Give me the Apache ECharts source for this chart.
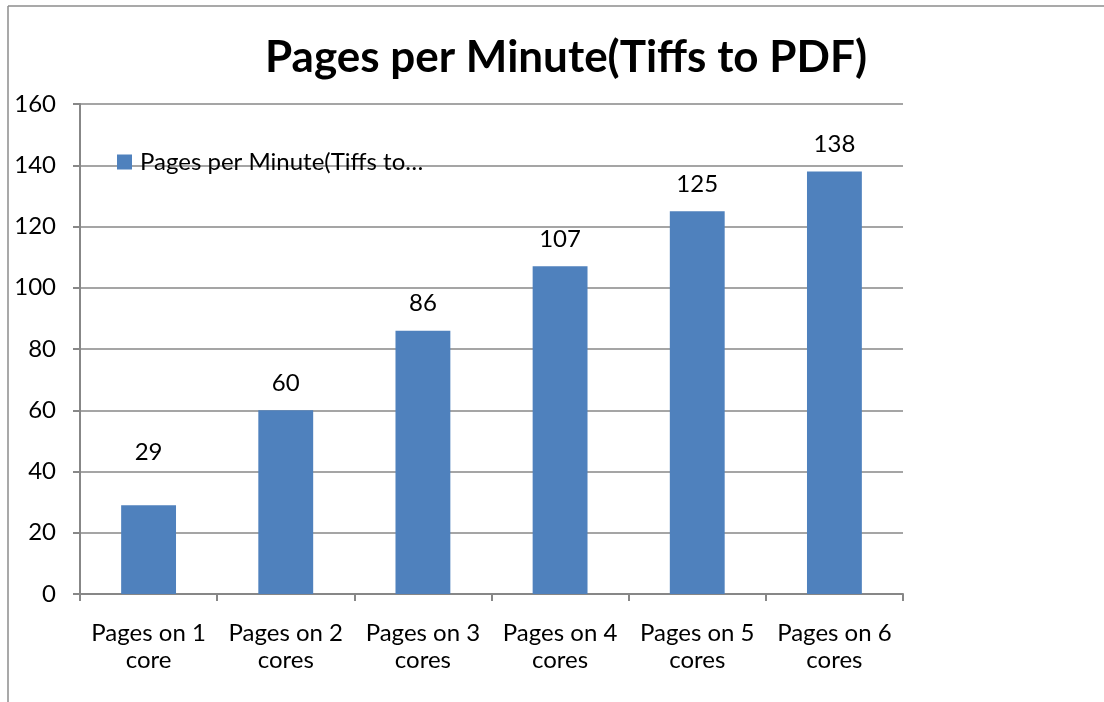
<!DOCTYPE html>
<html><head><meta charset="utf-8">
<script src="https://cdn.jsdelivr.net/npm/echarts@6/dist/echarts.min.js"></script>
<style>html,body{margin:0;padding:0;background:#fff}#c{width:1104px;height:702px}</style>
</head><body><div id="c"></div>
<script>
const categories = ["Pages on 1\ncore","Pages on 2\ncores","Pages on 3\ncores","Pages on 4\ncores","Pages on 5\ncores","Pages on 6\ncores"];
const values = [29, 60, 86, 107, 125, 138];
const seriesName = "Pages per Minute(Tiffs to PDF)";
const legendLabel = "Pages per Minute(Tiffs to…";
const titleText = "Pages per Minute(Tiffs to PDF)";
const FONT = "Lato";
const chart = echarts.init(document.getElementById('c'), null, {renderer:'canvas'});
const barData = values.map((v,i)=> i===0 ? {value:v,label:{distance:41}} : v);
chart.setOption({
  animation:false,
  backgroundColor:'#fff',
  textStyle:{fontFamily:FONT},
  title:{text:titleText,left:561,top:31,textAlign:'center',
    textStyle:{fontFamily:FONT,fontWeight:'bold',fontSize:44,color:'#000'}},
  legend:{left:117,top:150,padding:0,itemWidth:15,itemHeight:15,itemGap:5,icon:'rect',
    textStyle:{fontFamily:FONT,fontSize:24,color:'#000',padding:[0,0,0,3]},
    formatter:()=>legendLabel,
    data:[seriesName]},
  grid:{left:80,right:201,top:104,bottom:108,containLabel:false},
  xAxis:{type:'category',data:categories,
    axisLine:{lineStyle:{color:'#878787',width:2}},
    axisTick:{show:true,alignWithLabel:false,length:7,lineStyle:{color:'#878787',width:2}},
    axisLabel:{fontFamily:FONT,fontSize:24,color:'#000',lineHeight:27,margin:26,interval:0}},
  yAxis:{type:'value',min:0,max:160,interval:20,
    axisLine:{show:true,lineStyle:{color:'#878787',width:2}},
    axisTick:{show:true,length:7,lineStyle:{color:'#878787',width:2}},
    splitLine:{lineStyle:{color:'#878787',width:1.5}},
    axisLabel:{fontFamily:FONT,fontSize:24,color:'#000',margin:24}},
  series:[{name:seriesName,type:'bar',data:barData,barWidth:'40%',
    itemStyle:{color:'#4F81BD'},
    label:{show:true,position:'top',distance:15,fontFamily:FONT,fontSize:24,color:'#000'}}],
  graphic:[
    {type:'line',shape:{x1:8,y1:6,x2:1104,y2:6},style:{stroke:'#8c8c8c',lineWidth:1.5}},
    {type:'line',shape:{x1:8,y1:6,x2:8,y2:702},style:{stroke:'#8c8c8c',lineWidth:1.5}}
  ]
});
</script></body></html>
